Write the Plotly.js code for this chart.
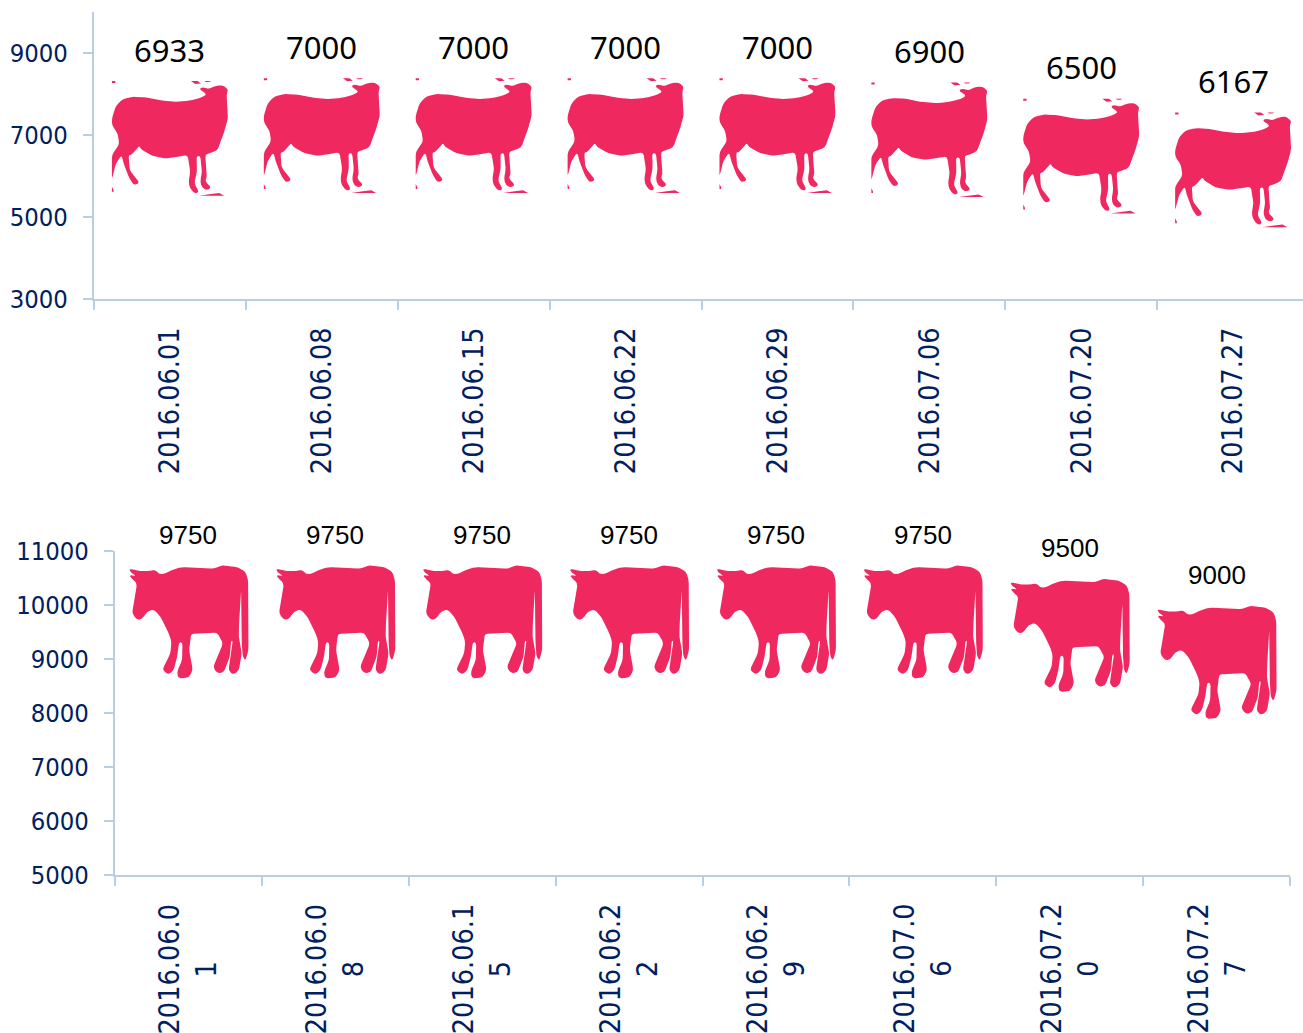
<!DOCTYPE html>
<html><head><meta charset="utf-8">
<script src="https://cdn.plot.ly/plotly-3.0.1.min.js"></script>
<style>html,body{margin:0;padding:0;background:#fff;overflow:hidden}#c{width:1303px;height:1033px}</style>
</head><body><div id="c"></div>
<script>
const dates = ["2016.06.01","2016.06.08","2016.06.15","2016.06.22","2016.06.29","2016.07.06","2016.07.20","2016.07.27"];
const sheepValues = [6933,7000,7000,7000,7000,6900,6500,6167];
const cowValues = [9750,9750,9750,9750,9750,9750,9500,9000];
const cowDateLines = [["2016.06.0","1"],["2016.06.0","8"],["2016.06.1","5"],["2016.06.2","2"],["2016.06.2","9"],["2016.07.0","6"],["2016.07.2","0"],["2016.07.2","7"]];
const sheepTicks = [3000,5000,7000,9000];
const cowTicks = [5000,6000,7000,8000,9000,10000,11000];

const NAVY="#002060", AXIS="#B9CDE5", PINK="#EF2860";
const W=1303,H=1033;
const COND="DejaVu Sans Condensed, DejaVu Sans, sans-serif";

// icon outlines, in units of a 3x tracing, relative to the point that sits on the value
const sheepIcon={cx:192,cy:188,parts:[
 {smooth:true,pts:[[18,130],[30,92],[50,72],[80,65],[120,67],[165,76],[210,80],[250,77],[285,68],[303,58],[280,42],[290,36],[310,42],[325,33],[350,30],[363,40],[366,46],[362,58],[366,130],[355,170],[342,205],[335,225],[310,235],[298,238],[301,285],[303,305],[297,318],[316,338],[303,346],[288,338],[283,320],[288,290],[283,243],[272,243],[273,290],[265,325],[279,350],[268,356],[252,340],[248,320],[253,290],[245,240],[215,245],[180,250],[140,243],[105,222],[100,212],[92,222],[75,240],[68,240],[71,285],[101,323],[85,331],[70,310],[53,265],[47,240],[30,265],[18,312],[18,240],[40,207],[35,175],[18,150]]},
 {pts:[[18,18],[28,18],[28,24],[18,24]]},
 {pts:[[255,18],[275,18],[285,25],[268,27]]},
 {pts:[[295,18],[315,18],[310,21],[300,21]]},
 {pts:[[280,362],[315,357],[340,354],[355,362]]},
 {pts:[[18,335],[23,345],[23,350],[18,350]]}
]};
const cowIcon={cx:564,cy:325.5,parts:[
 {smooth:true,pts:[[385,176],[420,183],[450,183],[465,179],[475,192],[490,192],[520,178],[545,171],[640,176],[665,166],[710,171],[735,185],[743,210],[744,420],[735,452],[727,440],[724,400],[722,240],[716,340],[715,380],[724,430],[715,482],[698,494],[684,482],[697,392],[692,392],[688,440],[670,487],[650,490],[638,472],[668,400],[650,368],[572,372],[566,420],[577,480],[565,503],[533,505],[530,485],[545,450],[546,398],[536,396],[530,440],[520,480],[505,494],[486,480],[495,460],[510,430],[513,395],[505,370],[480,320],[460,298],[440,305],[425,327],[410,330],[395,310],[405,250],[410,220],[395,207],[386,195],[408,198],[392,188]]}
]};
const CORNER=9;
function iconPath(icon){
  const f=q=>((q[0]-icon.cx)/3).toFixed(2)+","+((icon.cy-q[1])/3).toFixed(2);
  const toward=(a,b)=>{const d=Math.hypot(b[0]-a[0],b[1]-a[1]),t=Math.min(CORNER,d/2)/(d||1);return [a[0]+(b[0]-a[0])*t,a[1]+(b[1]-a[1])*t];};
  return icon.parts.map(part=>{
    const p=part.pts,n=p.length;
    if(!part.smooth) return "M"+p.map(f).join("L")+"Z";
    let s="";
    for(let i=0;i<n;i++){
      const a=toward(p[i],p[(i+n-1)%n]),b=toward(p[i],p[(i+1)%n]);
      s+=(i?"L":"M")+f(a)+"Q"+f(p[i])+" "+f(b);
    }
    return s+"Z";
  }).join(" ");
}
function iconShapes(values,icon,xref,yref){
  const path=iconPath(icon);
  return values.map((v,i)=>({type:"path",xref:xref,yref:yref,xsizemode:"pixel",ysizemode:"pixel",
    xanchor:dates[i],yanchor:v,path:path,fillcolor:PINK,line:{width:0},layer:"above"}));
}
function valueLabels(values,xref,yref,shift,font){
  return values.map((v,i)=>({xref:xref,yref:yref,x:dates[i],y:v,text:String(v),showarrow:false,
    xanchor:"center",yanchor:"middle",yshift:shift,font:font}));
}
const xTick={type:"category",categoryorder:"array",categoryarray:dates,tickson:"boundaries",showgrid:false,zeroline:false,
  showline:true,linecolor:AXIS,linewidth:2,ticks:"outside",ticklen:9,tickwidth:2,tickcolor:AXIS};
const yTick={type:"linear",showgrid:false,zeroline:false,showline:true,linecolor:AXIS,linewidth:2,ticks:"outside",ticklen:9,tickwidth:2,tickcolor:AXIS,
  ticklabelstandoff:10,tickfont:{family:COND,size:25.4,color:NAVY}};

const traces=[
 {type:"scatter",mode:"markers",xaxis:"x",yaxis:"y",x:dates,y:sheepValues,marker:{size:1,opacity:0},name:"sheep"},
 {type:"scatter",mode:"markers",xaxis:"x2",yaxis:"y2",x:dates,y:cowValues,marker:{size:1,opacity:0},name:"cow"}
];
const layout={width:W,height:H,margin:{l:0,r:0,t:0,b:0},paper_bgcolor:"#fff",plot_bgcolor:"#fff",showlegend:false,
 xaxis:Object.assign({},xTick,{domain:[94/W,1],range:[-0.5,7.46],anchor:"y",tickangle:-90,tickmode:"array",tickvals:dates,ticktext:dates,
   ticklabelstandoff:15,tickfont:{family:COND,size:28.5,color:NAVY}}),
 yaxis:Object.assign({},yTick,{domain:[1-299/H,1-12/H],range:[3000,10000],anchor:"x",tickmode:"array",tickvals:sheepTicks,ticktext:sheepTicks.map(String)}),
 xaxis2:Object.assign({},xTick,{domain:[115/W,1290/W],range:[-0.5,7.5],anchor:"y2",showticklabels:false}),
 yaxis2:Object.assign({},yTick,{domain:[1-875/H,1-551/H],range:[5000,11000],anchor:"x2",tickmode:"array",tickvals:cowTicks,ticktext:cowTicks.map(String)}),
 shapes:iconShapes(sheepValues,sheepIcon,"x","y").concat(iconShapes(cowValues,cowIcon,"x2","y2")),
 annotations:valueLabels(sheepValues,"x","y",88,{family:"Noto Sans, sans-serif",size:31,color:"#000"})
  .concat(valueLabels(cowValues,"x2","y2",84,{family:"Liberation Sans, sans-serif",size:26,color:"#000"}))
  .concat(cowDateLines.map((l,i)=>({xref:"x2",yref:"paper",x:dates[i],y:1-902/H,yanchor:"top",xanchor:"center",showarrow:false,
     text:l.join("<br>"),textangle:-90,align:"center",font:{family:COND,size:28.5,color:NAVY}})))
};
Plotly.newPlot("c",traces,layout,{displayModeBar:false,responsive:false});
</script></body></html>
